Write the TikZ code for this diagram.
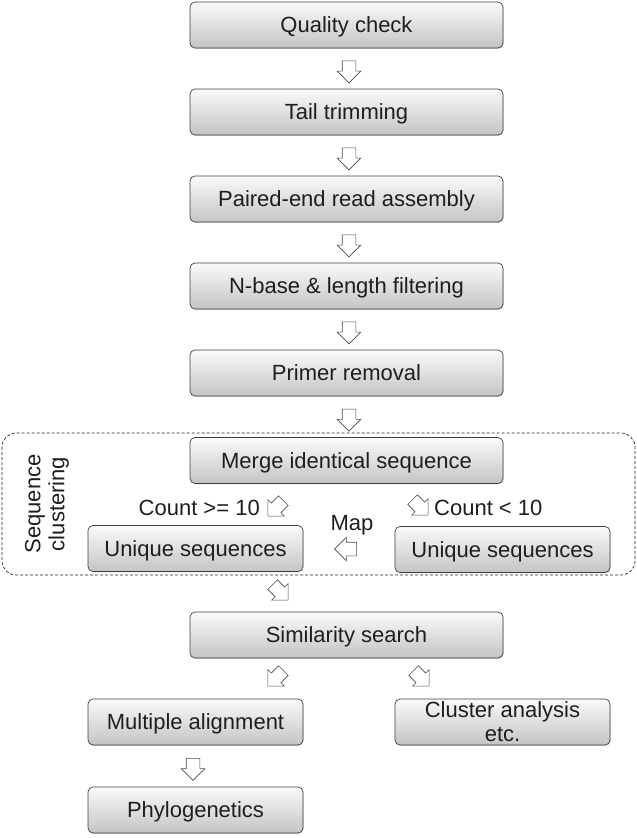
\documentclass[tikz,border=0pt]{standalone}
\usepackage{fontspec}
\setmainfont{Liberation Sans}
\usepackage{xcolor}
\usepackage{tikz}
\usetikzlibrary{arrows.meta, shapes.arrows, shadows, calc, positioning}
\definecolor{boxtop}{HTML}{FAFAFA}
\definecolor{boxbot}{HTML}{C4C4C4}
\definecolor{inkdark}{HTML}{1E1E1E}

\begin{document}
\begin{tikzpicture}[
  x=1pt, y=-1pt,
  pbox/.style={rectangle, rounded corners=5pt, draw=black!75, line width=0.7pt,
    top color=boxtop, bottom color=boxbot, minimum height=46pt,
    inner sep=2pt, text=inkdark, align=center,
    font=\fontsize{22}{24}\selectfont,
    drop shadow={shadow xshift=0.6pt, shadow yshift=-0.8pt, opacity=0.35}},
  oneline/.style={text height=15pt, text depth=0pt},
  wbox/.style={pbox, oneline, minimum width=313pt},
  sbox/.style={pbox, oneline, minimum width=215pt},
  barr/.style={single arrow, draw=black!70, fill=white, line width=0.6pt,
    minimum height=22pt, inner xsep=0pt, inner ysep=6.5pt,
    single arrow head extend=5pt},
  lbl/.style={text=inkdark, font=\fontsize{22}{24}\selectfont, inner sep=0pt}
]
\useasboundingbox (0,0) rectangle (637,838);

% ---- Clustering frame ----
\draw[black!85, dashed, dash pattern=on 3pt off 2pt, line width=0.7pt,
  rounded corners=14pt] (2,433) rectangle (635,575);
\node[lbl, rotate=90, align=center] (lclust) at (47,504) {Sequence\\clustering};

% ---- Main pipeline ----
\node[wbox] (qc) at (346.5,25)  {Quality check};
\node[wbox] (tt) at (346.5,112) {Tail trimming};
\node[wbox] (pe) at (346.5,199) {Paired-end read assembly};
\node[wbox] (nb) at (346.5,286) {N-base \& length filtering};
\node[wbox] (pr) at (346.5,373) {Primer removal};
\node[wbox] (mg) at (346.5,460.5) {Merge identical sequence};

\node[barr, rotate=-90] (a1) at ($(qc.south)!0.5!(tt.north)+(2.5,0)$) {};
\node[barr, rotate=-90] (a2) at ($(tt.south)!0.5!(pe.north)+(2.5,0)$) {};
\node[barr, rotate=-90] (a3) at ($(pe.south)!0.5!(nb.north)+(2.5,0)$) {};
\node[barr, rotate=-90] (a4) at ($(nb.south)!0.5!(pr.north)+(2.5,0)$) {};
\node[barr, rotate=-90] (a5) at ($(pr.south)!0.5!(mg.north)+(2.5,0)$) {};

% ---- Unique sequence split ----
\node[sbox] (ul) at (195.5,548.5) {Unique sequences};
\node[sbox] (ur) at (502.5,549.5) {Unique sequences};

\node[barr, rotate=-135] (ahi) at (278,506) {};
\node[lbl, anchor=east] (lhi) at (260,508) {Count >= 10};
\node[barr, rotate=-45] (alo) at (418,505) {};
\node[lbl, anchor=west] (llo) at (434,508) {Count < 10};

\node[barr, rotate=180] (amap) at (349,549) {};
\node[lbl] (lmap) at (352,525) {Map};

% ---- Downstream ----
\node[barr, rotate=-45] (a6) at (278,590) {};
\node[wbox] (ss) at (346.5,635) {Similarity search};

\node[barr, rotate=-135] (a7) at (278,676) {};
\node[barr, rotate=-45] (a8) at (419,676) {};

\node[sbox] (ma) at (195.5,722) {Multiple alignment};
\node[pbox, minimum width=215pt] (ca) at (502.5,722) {Cluster analysis\\etc.};
\node[sbox] (ph) at (195.5,810) {Phylogenetics};

\node[barr, rotate=-90] (a9) at ($(ma.south)!0.5!(ph.north)+(-2.5,0)$) {};

\end{tikzpicture}
\end{document}
